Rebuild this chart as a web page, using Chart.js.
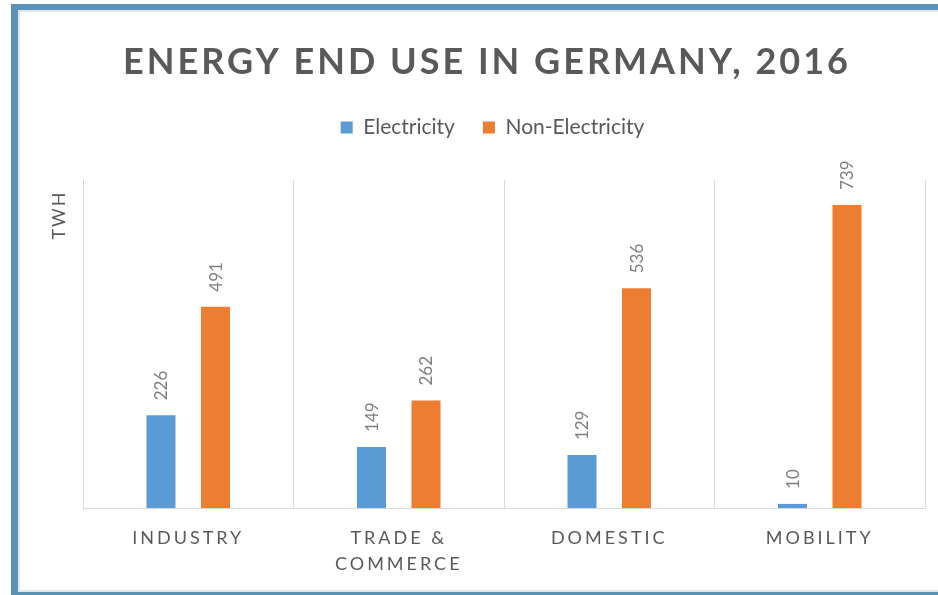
<!DOCTYPE html>
<html>
<head>
<meta charset="utf-8">
<script src="https://cdn.jsdelivr.net/npm/chart.js@4.4.0/dist/chart.umd.min.js"></script>
<style>
html,body{margin:0;padding:0;background:#fff;overflow:hidden;}
#wrap{position:relative;width:938px;height:595px;overflow:hidden;background:#fff;}
#c{position:absolute;left:0;top:0;}
#frame{position:absolute;left:11px;top:4px;width:1000px;height:591px;box-sizing:border-box;
  border-left:7px solid #5b93b7;border-top:6px solid #5b93b7;border-bottom:3px solid #5b93b7;
  box-shadow: inset 2px 2px 0 #e4e4e4, inset 0 -2px 0 #e4e4e4;pointer-events:none;}
</style>
</head>
<body>
<div id="wrap">
  <canvas id="c" width="938" height="595"></canvas>
  <div id="frame"></div>
</div>
<script>
// ---- data ----
const titleText = 'ENERGY END USE IN GERMANY, 2016';
const yAxisTitle = 'TWH';
const categories = ['INDUSTRY', ['TRADE &', 'COMMERCE'], 'DOMESTIC', 'MOBILITY'];
const seriesNames = ['Electricity', 'Non-Electricity'];
const electricity = [226, 149, 129, 10];
const nonElectricity = [491, 262, 536, 739];
const yMin = 0;
const yMax = 800;

// ---- styling ----
const FONT = 'Lato, "Open Sans", "Liberation Sans", sans-serif';
const TEXT = '#595959';
const BLUE = '#5b9bd5';
const ORANGE = '#ed7d31';

const extrasPlugin = {
  id: 'extras',
  afterDatasetsDraw(chart) {
    const ctx = chart.ctx;
    ctx.save();
    ctx.font = '17px ' + FONT;
    ctx.fillStyle = '#7f7f7f';
    ctx.textAlign = 'left';
    ctx.textBaseline = 'middle';
    chart.data.datasets.forEach((ds, di) => {
      const meta = chart.getDatasetMeta(di);
      meta.data.forEach((el, i) => {
        ctx.save();
        ctx.translate(el.x, el.y - 15);
        ctx.rotate(-Math.PI / 2);
        ctx.fillText(String(ds.data[i]), 0, 1);
        ctx.restore();
      });
    });
    ctx.restore();
    // letter-spacing for the x tick labels (drawn next, z = 1)
    ctx.letterSpacing = '3px';
  },
  afterDraw(chart) {
    const ctx = chart.ctx;
    ctx.letterSpacing = '0px';
    // chart title
    ctx.save();
    ctx.letterSpacing = '3px';
    ctx.font = 'bold 36px ' + FONT;
    ctx.fillStyle = TEXT;
    ctx.textAlign = 'center';
    ctx.textBaseline = 'middle';
    ctx.fillText(titleText, 487, 62);
    ctx.restore();
    // y axis title
    ctx.save();
    ctx.letterSpacing = '2px';
    ctx.font = '18px ' + FONT;
    ctx.fillStyle = TEXT;
    ctx.textAlign = 'center';
    ctx.textBaseline = 'middle';
    ctx.translate(59, 216);
    ctx.rotate(-Math.PI / 2);
    ctx.fillText(yAxisTitle, 1, 0);
    ctx.restore();
    ctx.letterSpacing = '0px';
  }
};

new Chart(document.getElementById('c'), {
  type: 'bar',
  data: {
    labels: categories,
    datasets: [
      { label: seriesNames[0], data: electricity, backgroundColor: BLUE,
        categoryPercentage: 0.518, barPercentage: 0.532 },
      { label: seriesNames[1], data: nonElectricity, backgroundColor: ORANGE,
        categoryPercentage: 0.518, barPercentage: 0.532 }
    ]
  },
  options: {
    responsive: false,
    devicePixelRatio: 1,
    animation: false,
    layout: { padding: { top: 89, left: 60, right: 13, bottom: 0 } },
    plugins: {
      title: { display: false },
      subtitle: {
        display: true, text: '', weight: 500,
        font: { size: 10, lineHeight: 1 }, padding: { top: 22, bottom: 0 }
      },
      legend: {
        display: true,
        position: 'top',
        labels: {
          boxWidth: 12, boxHeight: 12, padding: 28,
          color: TEXT, font: { size: 21, family: FONT }
        }
      },
      tooltip: { enabled: false }
    },
    scales: {
      x: {
        grid: { display: true, offset: true, drawTicks: false, color: '#d9d9d9', lineWidth: 1 },
        border: { display: true, color: '#d9d9d9', width: 1 },
        ticks: {
          z: 1, color: TEXT, padding: 17, maxRotation: 0, autoSkip: false,
          font: { size: 18, family: FONT, lineHeight: 26 / 18 }
        },
        afterFit(scale) { scale.height = 87; }
      },
      y: {
        min: yMin, max: yMax,
        grid: { display: false },
        border: { display: false },
        ticks: { display: false },
        title: { display: false },
        afterFit(scale) { scale.width = 23; }
      }
    }
  },
  plugins: [extrasPlugin]
});
</script>
</body>
</html>
